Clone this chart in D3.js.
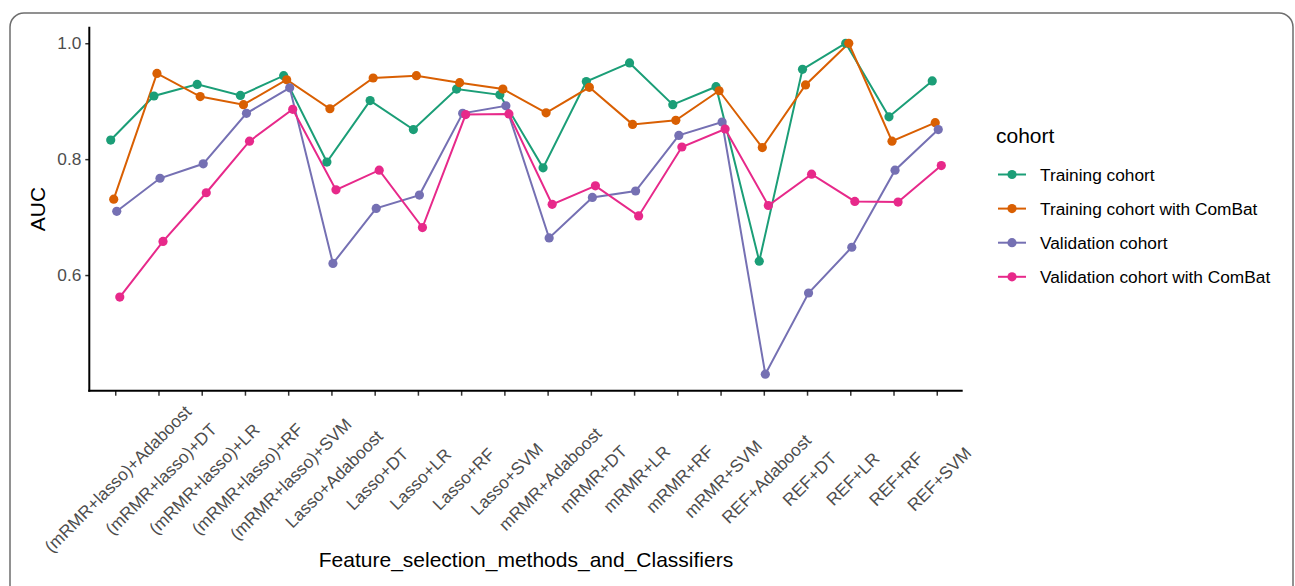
<!DOCTYPE html>
<html>
<head>
<meta charset="utf-8">
<script src="https://cdn.jsdelivr.net/npm/d3@7"></script>
<style>
  body { margin: 0; background: white; }
  svg { display: block; font-family: "Liberation Sans", Arial, sans-serif; }
</style>
</head>
<body>
<div id="chart"></div>
<script>
// kategorier på x-axeln
const categories = [
  "(mRMR+lasso)+Adaboost", "(mRMR+lasso)+DT", "(mRMR+lasso)+LR", "(mRMR+lasso)+RF", "(mRMR+lasso)+SVM",
  "Lasso+Adaboost", "Lasso+DT", "Lasso+LR", "Lasso+RF", "Lasso+SVM",
  "mRMR+Adaboost", "mRMR+DT", "mRMR+LR", "mRMR+RF", "mRMR+SVM",
  "REF+Adaboost", "REF+DT", "REF+LR", "REF+RF", "REF+SVM"
];

// AUC-värden, en array per kohort
const training = [0.833, 0.909, 0.929, 0.910, 0.944, 0.795, 0.901, 0.851, 0.921, 0.911,
  0.785, 0.934, 0.966, 0.894, 0.925, 0.624, 0.955, 1.000, 0.873, 0.935];
const trainingCombat = [0.731, 0.948, 0.908, 0.894, 0.937, 0.887, 0.940, 0.944, 0.932, 0.921,
  0.880, 0.924, 0.860, 0.867, 0.918, 0.820, 0.928, 1.000, 0.831, 0.863];
const validation = [0.710, 0.767, 0.792, 0.879, 0.923, 0.620, 0.715, 0.738, 0.879, 0.892,
  0.664, 0.734, 0.745, 0.841, 0.864, 0.429, 0.569, 0.648, 0.781, 0.851];
const validationCombat = [0.562, 0.658, 0.742, 0.831, 0.886, 0.747, 0.781, 0.682, 0.877, 0.878,
  0.722, 0.754, 0.702, 0.821, 0.852, 0.720, 0.774, 0.727, 0.726, 0.789];

const seriesNames = ["Training cohort", "Training cohort with ComBat", "Validation cohort", "Validation cohort with ComBat"];
const yTickValues = [0.6, 0.8, 1.0];

const series = [training, trainingCombat, validation, validationCombat]
  .map((values, i) => ({ name: seriesNames[i], values: values }));

const width = 1295,
  height = 586,
  plotLeft = 89.3,
  plotRight = 962.7,
  plotTop = 26.7,
  plotBottom = 390.7;

const svg = d3.select('#chart')
  .append('svg')
  .attr('width', width)
  .attr('height', height);

// ramen runt hela figuren
svg.append('rect')
  .attr('x', 10).attr('y', 13)
  .attr('width', 1283).attr('height', 620)
  .attr('rx', 14)
  .attr('fill', 'white')
  .attr('stroke', '#6e6e6e')
  .attr('stroke-width', 1.5);

/** Y-axeln, ggplot-stil med 5% marginal */
const all = series.flatMap(s => s.values);
const [lo, hi] = d3.extent(all);
const pad = (hi - lo) * 0.05;
const scaleY = d3.scaleLinear()
  .domain([lo - pad, hi + pad])
  .range([plotBottom, plotTop]);

/** X-axeln */
const scaleX = d3.scalePoint()
  .domain(categories)
  .range([plotLeft, plotRight])
  .padding(0.6);
const step = scaleX.step();

// dodge så att punkterna inte ligger på varandra
const dodge = d3.scaleBand()
  .domain(seriesNames)
  .range([-0.14 * step, 0.14 * step]);
const dx = name => dodge(name) + dodge.bandwidth() / 2;

const color = d3.scaleOrdinal()
  .domain(seriesNames)
  .range(['#1B9E77', '#D95F02', '#7570B3', '#E7298A']);

const yAxis = svg.append('g')
  .attr('transform', `translate(${plotLeft},0)`)
  .call(d3.axisLeft(scaleY).tickValues(yTickValues).tickFormat(d3.format('.1f')).tickSize(4).tickPadding(4));
yAxis.select('.domain').remove();
yAxis.append('line')
  .attr('x1', 0).attr('x2', 0)
  .attr('y1', plotTop).attr('y2', plotBottom + 1)
  .attr('stroke', 'black').attr('stroke-width', 2);
yAxis.selectAll('.tick line').attr('stroke', '#333').attr('stroke-width', 1.5);
yAxis.selectAll('.tick text')
  .attr('fill', '#4D4D4D')
  .style('font-size', '17.3px');

const xAxis = svg.append('g')
  .attr('transform', `translate(0,${plotBottom})`)
  .call(d3.axisBottom(scaleX).tickSize(5).tickFormat(''));
xAxis.select('.domain').remove();
xAxis.append('line')
  .attr('x1', plotLeft - 1).attr('x2', plotRight)
  .attr('y1', 0).attr('y2', 0)
  .attr('stroke', 'black').attr('stroke-width', 2);
xAxis.selectAll('.tick line').attr('stroke', '#333').attr('stroke-width', 1.5);

// roterade etiketter, centrerade kring en punkt under varje tick
svg.append('g')
  .selectAll('text')
  .data(categories)
  .enter().append('text')
    .attr('transform', d => `translate(${scaleX(d) + 2.5},479) rotate(-45)`)
    .attr('text-anchor', 'middle')
    .attr('dominant-baseline', 'central')
    .attr('fill', '#4D4D4D')
    .style('font-size', '17.3px')
    .text(d => d);

// axeltitlar
svg.append('text')
  .attr('transform', 'translate(45,209) rotate(-90)')
  .attr('text-anchor', 'middle')
  .style('font-size', '21px')
  .text('AUC');

svg.append('text')
  .attr('x', (plotLeft + plotRight) / 2)
  .attr('y', 567)
  .attr('text-anchor', 'middle')
  .style('font-size', '21px')
  .text('Feature_selection_methods_and_Classifiers');

const plot = svg.append('g');

// först linjerna, sedan punkterna (som geom_line + geom_point)
plot.selectAll('path.serie')
  .data(series)
  .enter().append('path')
    .attr('class', 'serie')
    .attr('fill', 'none')
    .attr('stroke', d => color(d.name))
    .attr('stroke-width', 2)
    .attr('d', d => d3.line()
      .x((v, i) => scaleX(categories[i]) + dx(d.name))
      .y(v => scaleY(v))(d.values));

plot.selectAll('g.points')
  .data(series)
  .enter().append('g')
    .attr('class', 'points')
    .attr('fill', d => color(d.name))
  .selectAll('circle')
  .data(d => d.values.map((v, i) => ({ name: d.name, cat: categories[i], v: v })))
  .enter().append('circle')
    .attr('cx', d => scaleX(d.cat) + dx(d.name))
    .attr('cy', d => scaleY(d.v))
    .attr('r', 4.6);

/** legend */
const legend = svg.append('g');
legend.append('text')
  .attr('x', 996)
  .attr('y', 143)
  .style('font-size', '21px')
  .text('cohort');

const rows = legend.selectAll('g.row')
  .data(seriesNames)
  .enter().append('g')
    .attr('class', 'row')
    .attr('transform', (d, i) => `translate(0,${174.5 + i * 34.1})`);

rows.append('line')
  .attr('x1', 998).attr('x2', 1026)
  .attr('stroke', d => color(d))
  .attr('stroke-width', 2);
rows.append('circle')
  .attr('cx', 1012).attr('r', 4.6)
  .attr('fill', d => color(d));
rows.append('text')
  .attr('x', 1040)
  .attr('dominant-baseline', 'central')
  .style('font-size', '17.3px')
  .text(d => d);
</script>
</body>
</html>
